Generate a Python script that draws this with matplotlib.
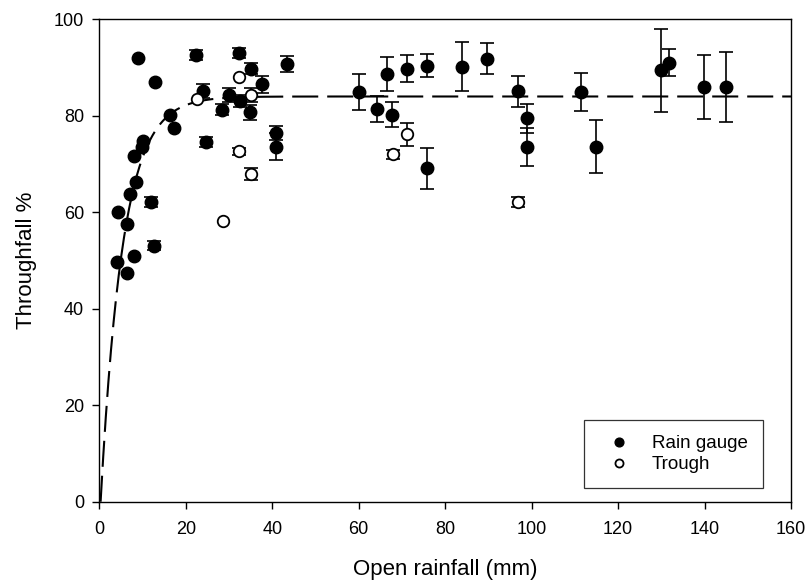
import numpy as np
import matplotlib
matplotlib.use("Agg")
import matplotlib.pyplot as plt

plt.rcParams['font.family'] = ['Liberation Sans', 'DejaVu Sans']

# rain gauge (filled) - x: open rainfall mm, y: throughfall %, err: +/- bar
gauge_x = [4.2, 6.3, 4.4, 6.5, 7.1, 8.6, 8.1, 9.8, 10.2, 9.0, 12.9, 12.0, 12.6, 8.1,
           16.3, 17.3, 22.4, 24.1, 24.7, 28.3, 30.1, 32.5, 32.4, 35.0, 34.9, 37.6,
           40.9, 40.9, 43.5, 60.1, 64.2, 66.6, 67.6, 71.1, 75.7, 75.7, 83.8, 89.8,
           96.8, 98.9, 98.9, 111.4, 114.8, 129.9, 131.9, 139.9, 144.9]
gauge_y = [49.6, 47.5, 60.1, 57.6, 63.7, 66.3, 71.7, 73.6, 74.8, 91.9, 87.1, 62.1, 53.1, 50.9,
           80.2, 77.4, 92.6, 85.1, 74.6, 81.3, 84.3, 83.1, 93.0, 89.8, 80.7, 86.5,
           76.4, 73.6, 90.7, 84.9, 81.4, 88.6, 80.2, 89.8, 90.4, 69.1, 90.2, 91.8,
           85.1, 79.5, 73.5, 84.9, 73.6, 89.4, 91.0, 86.0, 86.0]
gauge_err = [0, 0, 0, 0, 0, 0, 0, 0, 0, 0, 0, 1.0, 1.0, 0,
             0, 0, 1.0, 1.5, 1.0, 1.2, 1.5, 1.2, 1.0, 1.2, 1.5, 1.8,
             1.4, 2.8, 1.7, 3.8, 2.7, 3.5, 2.6, 2.8, 2.4, 4.3, 5.1, 3.2,
             3.2, 3.0, 4.0, 3.9, 5.5, 8.6, 2.8, 6.7, 7.2]

# trough (open)
trough_x = [22.5, 28.5, 32.4, 32.4, 35.1, 35.0, 68.0, 71.1, 96.9]
trough_y = [83.5, 58.2, 88.0, 72.6, 84.3, 67.9, 72.0, 76.2, 62.1]
trough_err = [0, 0, 0, 0.8, 1.5, 1.2, 1.0, 2.4, 1.0]

# fitted curve y = a*(1-exp(-k*(x-x0)))
fit_a = 84.0
fit_k = 0.195
fit_x0 = 0.3

fig = plt.figure(figsize=(8.1, 5.83), dpi=100)
ax = fig.add_axes([0.1226, 0.1394, 0.8539, 0.8275])

xx = np.linspace(fit_x0, 160, 800)
ax.plot(xx, fit_a * (1 - np.exp(-fit_k * (xx - fit_x0))), color='black', lw=1.5,
        dashes=(12.5, 4.3), zorder=1)

gx, gy, ge = np.array(gauge_x), np.array(gauge_y), np.array(gauge_err)
m = ge > 0
ax.errorbar(gx[m], gy[m], yerr=ge[m], fmt='none', ecolor='black', elinewidth=1.2,
            capsize=4.7, capthick=1.2, zorder=2)
tx, ty, te = np.array(trough_x), np.array(trough_y), np.array(trough_err)
m = te > 0
ax.errorbar(tx[m], ty[m], yerr=te[m], fmt='none', ecolor='black', elinewidth=1.2,
            capsize=4.7, capthick=1.2, zorder=2)

ax.plot(gx, gy, 'o', color='black', ms=9, zorder=3, label='Rain gauge')
ax.plot(tx, ty, 'o', mfc='white', mec='black', mew=1.3, ms=8.3, zorder=3, label='Trough')

ax.set_xlim(0, 160)
ax.set_ylim(0, 100)
ax.set_xticks(range(0, 161, 20))
ax.set_yticks(range(0, 101, 20))
ax.tick_params(direction='out', length=5, width=1.0, labelsize=13, colors='black')
ax.tick_params(axis='x', pad=9)
ax.tick_params(axis='y', pad=6)
for s in ax.spines.values():
    s.set_linewidth(1.0)

ax.set_xlabel('Open rainfall (mm)', fontsize=16, labelpad=15)
ax.set_ylabel('Throughfall %', fontsize=16, labelpad=12)

leg = ax.legend(loc='lower right', bbox_to_anchor=(0.9595, 0.028), fontsize=13.5,
                frameon=True, fancybox=False, edgecolor='black', handletextpad=0.73,
                borderpad=0.8, labelspacing=0.2, handlelength=2.1, markerscale=0.7,
                borderaxespad=0)
leg.get_frame().set_linewidth(0.9)

fig.savefig('out.png', dpi=100)
